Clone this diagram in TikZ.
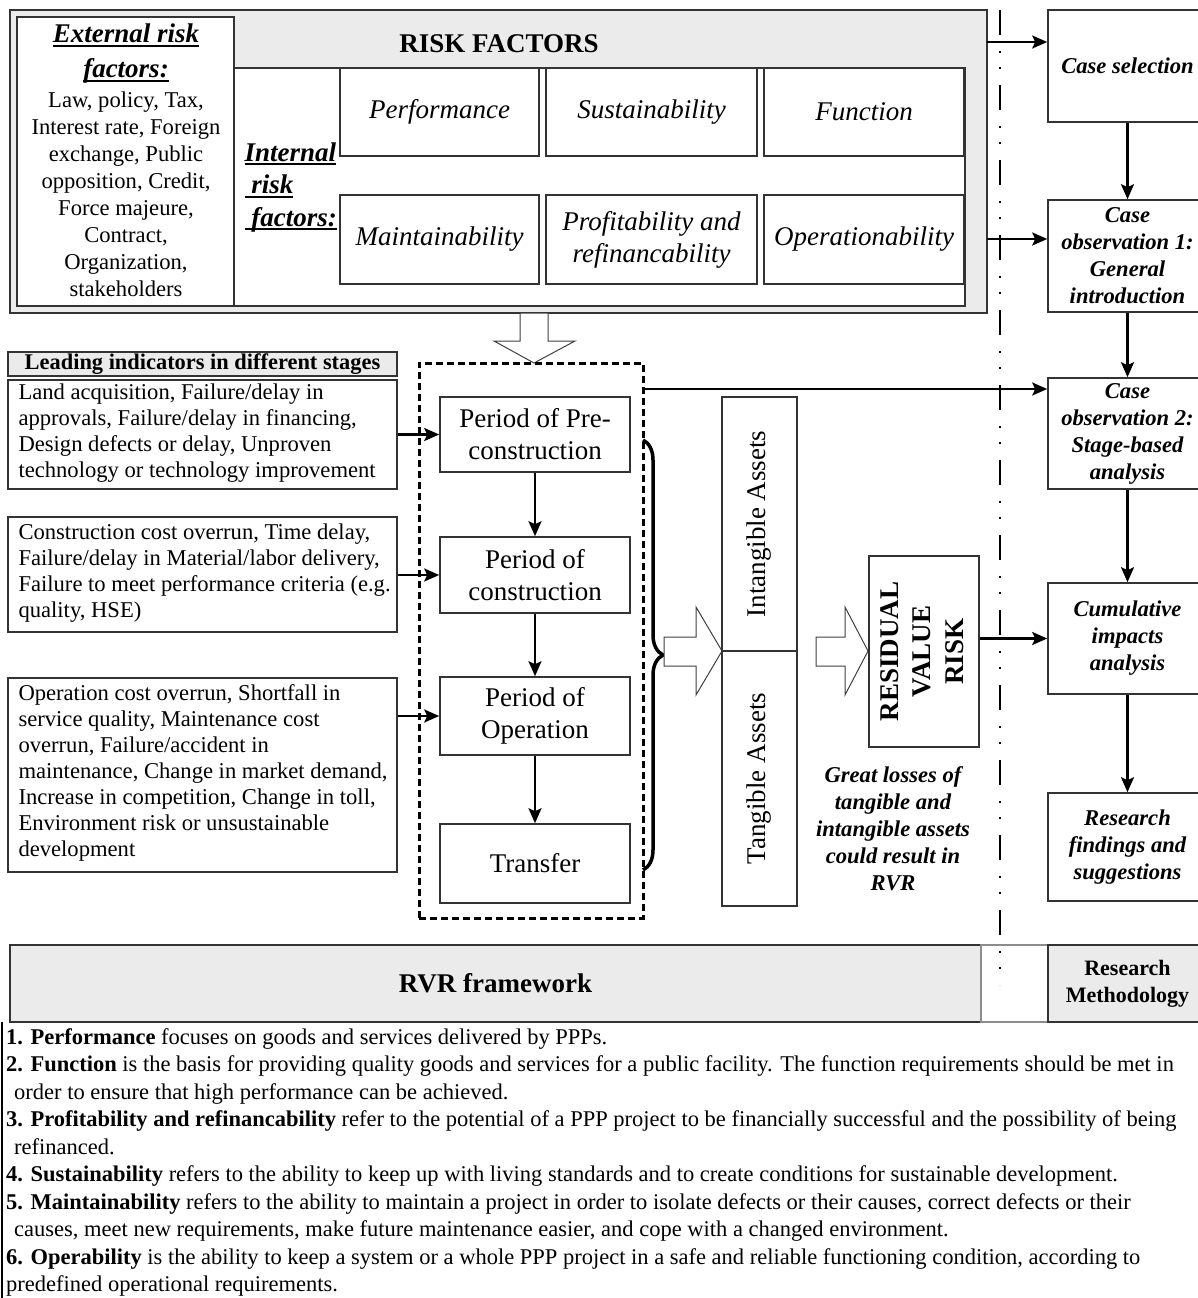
\documentclass[tikz,border=0pt]{standalone}
\usepackage{fontspec}
\setmainfont{Liberation Serif}
\usetikzlibrary{decorations.pathreplacing,arrows.meta}
\newcommand{\undl}[1]{\setbox0=\hbox{#1}\rlap{\rule[-4pt]{\wd0}{2.2pt}}\box0}
\tikzset{
 box/.style={draw=black!80, line width=1.6pt, fill=white, inner sep=0pt, align=center},
 greybox/.style={box, fill=black!8},
 arr/.style={-{Stealth[length=15pt, width=13pt, inset=3pt]}, line width=2.4pt},
 hollow/.style={draw=black!75, line width=1pt, fill=white},
 bigrm/.style={font=\fontsize{27}{32}\selectfont},
 bigit/.style={font=\fontsize{27}{32}\selectfont\itshape},
 bigbf/.style={font=\fontsize{27}{32.5}\selectfont\bfseries},
 bigbi/.style={font=\fontsize{27}{32.5}\selectfont\bfseries\itshape},
 smallrm/.style={font=\fontsize{22.6}{26}\selectfont},
 smallbi/.style={font=\fontsize{22.6}{27}\selectfont\bfseries\itshape},
}
\begin{document}
\begin{tikzpicture}[x=1pt, y=-1pt]
\useasboundingbox (0,0) rectangle (1198,1298);

% risk factors
\node[greybox, line width=2.4pt, minimum width=977pt, minimum height=303pt] (riskbox) at (498.5,161.5) {};
\node[box, minimum width=731pt, minimum height=238pt] (intbox) at (599.5,187) {};
\node[box, minimum width=217pt, minimum height=289pt] (extbox) at (125.5,161.5) {};
\node[font=\fontsize{27}{35}\selectfont\bfseries\itshape, align=center] (exthead) at (126,54) {\undl{External risk}\\\undl{factors:}};
\node[font=\fontsize{22.6}{27}\selectfont, align=center] (extlist) at (126,194.5) {Law, policy, Tax,\\Interest rate, Foreign\\exchange, Public\\opposition, Credit,\\Force majeure,\\Contract,\\Organization,\\stakeholders};
\node[bigbf] (rftitle) at (499,44) {RISK FACTORS};
\node[bigbi, align=left, anchor=west] (intlabel) at (241,187.5) {\undl{Internal}\\\undl{\ risk}\\\undl{\ factors:}};
\node[box, bigit, minimum width=199pt, minimum height=88pt] (perf) at (439.5,112) {Performance};
\node[box, bigit, minimum width=211pt, minimum height=88pt] (sust) at (651.5,112) {Sustainability};
\node[box, bigit, minimum width=200pt, minimum height=88pt] (func) at (864,112) {Function};
\node[box, bigit, minimum width=199pt, minimum height=89pt] (maint) at (439.5,239.5) {Maintainability};
\node[box, bigit, minimum width=211pt, minimum height=89pt] (profit) at (651.5,239.5) {Profitability and\\refinancability};
\node[box, bigit, minimum width=200pt, minimum height=89pt] (operat) at (864,239.5) {Operationability};

% research methodology
\node[box, smallbi, minimum width=159pt, minimum height=112pt] (casesel) at (1127.5,66) {Case selection};
\node[box, smallbi, minimum width=159pt, minimum height=112pt] (obs1) at (1127.5,256) {Case\\observation 1:\\General\\introduction};
\node[box, smallbi, minimum width=159pt, minimum height=111pt] (obs2) at (1127.5,433.5) {Case\\observation 2:\\Stage-based\\analysis};
\node[box, smallbi, minimum width=159pt, minimum height=111pt] (cumul) at (1127.5,638.5) {Cumulative\\impacts\\analysis};
\node[box, smallbi, minimum width=159pt, minimum height=108pt] (findings) at (1127.5,847) {Research\\findings and\\suggestions};

% stages
\draw[hollow] (520,313) -- (548,313) -- (548,341) -- (575,341) -- (534,363) -- (494,341) -- (520,341) -- cycle;
\node[draw, line width=3pt, dash pattern=on 7pt off 4pt, minimum width=224pt, minimum height=555pt] (stagebox) at (531,640.5) {};
\node[greybox, font=\fontsize{22.4}{26}\selectfont\bfseries, minimum width=389pt, minimum height=24pt] (leadhead) at (202.5,364) {Leading indicators in different stages};
\node[box, minimum width=389pt, minimum height=109pt] (ind1) at (202.5,434.5) {};
\node[box, minimum width=389pt, minimum height=115pt] (ind2) at (202.5,574.5) {};
\node[box, minimum width=389pt, minimum height=194pt] (ind3) at (202.5,775) {};
\node[smallrm, align=left, anchor=west] (ind1txt) at (15,433) {Land acquisition, Failure/delay in\\approvals, Failure/delay in financing,\\Design defects or delay, Unproven\\technology or technology improvement};
\node[smallrm, align=left, anchor=west] (ind2txt) at (15,573) {Construction cost overrun, Time delay,\\Failure/delay in Material/labor delivery,\\Failure to meet performance criteria (e.g.\\quality, HSE)};
\node[smallrm, align=left, anchor=west] (ind3txt) at (15,773) {Operation cost overrun, Shortfall in\\service quality, Maintenance cost\\overrun, Failure/accident in\\maintenance, Change in market demand,\\Increase in competition, Change in toll,\\Environment risk or unsustainable\\development};
\node[box, bigrm, minimum width=190pt, minimum height=75pt] (pre) at (535,434.5) {Period of Pre-\\construction};
\node[box, bigrm, minimum width=190pt, minimum height=76pt] (constr) at (535,575) {Period of\\construction};
\node[box, bigrm, minimum width=190pt, minimum height=78pt] (oper) at (535,716) {Period of\\Operation};
\node[box, bigrm, minimum width=190pt, minimum height=79pt] (transfer) at (535,863.5) {Transfer};
\draw[decorate, decoration={brace, amplitude=20pt}, line width=3.5pt] (643,440) -- (643,870);

% assets and RVR
\draw[hollow] (664,637) -- (696,637) -- (696,607) -- (722,651) -- (696,695) -- (696,666) -- (664,666) -- cycle;
\node[box, bigrm, minimum width=75pt, minimum height=254pt] (intang) at (759.5,524) {\rotatebox{90}{Intangible Assets}};
\node[box, bigrm, minimum width=75pt, minimum height=255pt] (tang) at (759.5,778.5) {\rotatebox{90}{Tangible Assets}};
\draw[hollow] (816,637) -- (845,637) -- (845,607) -- (868,651) -- (845,695) -- (845,666) -- (816,666) -- cycle;
\node[box, bigbf, minimum width=110pt, minimum height=191pt] (rvr) at (924,651.5) {\rotatebox{90}{\begin{tabular}{@{}c@{}}RESIDUAL\\VALUE\\RISK\end{tabular}}};
\node[smallbi, align=center] (losses) at (893,829) {Great losses of\\tangible and\\intangible assets\\could result in\\RVR};

% bottom band
\node[greybox, bigbf, minimum width=971pt, minimum height=77pt] (rvrfw) at (495.5,983.5) {RVR framework};
\node[box, draw=black!45, minimum width=67pt, minimum height=77pt] (gap) at (1014.5,983.5) {};
\node[greybox, font=\fontsize{22}{27}\selectfont\bfseries, minimum width=159pt, minimum height=77pt] (resmeth) at (1127.5,983.5) {Research\\Methodology};
\draw[line width=2pt, dash pattern=on 25pt off 16pt on 2pt off 14pt on 2pt off 16pt] (1000,10) -- (1000,985);

% connectors
\coordinate (rfout1) at (987,42);
\coordinate (rfout2) at (987,239);
\coordinate (stageout) at (643,389);
\draw[arr] (rfout1) -- (rfout1 -| casesel.west);
\draw[arr] (rfout2) -- (rfout2 -| obs1.west);
\draw[arr] (stageout) -- (stageout -| obs2.west);
\draw[arr] (casesel) -- (obs1);
\draw[arr] (obs1) -- (obs2);
\draw[arr] (obs2) -- (cumul);
\draw[arr] (cumul) -- (findings);
\draw[arr] (rvr.east |- cumul.west) -- (cumul.west);
\draw[arr] (ind1.east |- pre.west) -- (pre.west);
\draw[arr] (ind2.east |- constr.west) -- (constr.west);
\draw[arr] (ind3.east |- oper.west) -- (oper.west);
\draw[arr] (pre) -- (constr);
\draw[arr] (constr) -- (oper);
\draw[arr] (oper) -- (transfer);

% definitions
\draw[line width=1.6pt] (2,1022) -- (2,1298);
\node[font=\fontsize{22.5}{27.5}\selectfont, align=left, anchor=north west, inner sep=0pt] (notes) at (6,1028) {\textbf{1. Performance} focuses on goods and services delivered by PPPs.\\
\textbf{2. Function} is the basis for providing quality goods and services for a public facility. The function requirements should be met in\\
\hspace{8pt}order to ensure that high performance can be achieved.\\
\textbf{3. Profitability and refinancability} refer to the potential of a PPP project to be financially successful and the possibility of being\\
\hspace{8pt}refinanced.\\
\textbf{4. Sustainability} refers to the ability to keep up with living standards and to create conditions for sustainable development.\\
\textbf{5. Maintainability} refers to the ability to maintain a project in order to isolate defects or their causes, correct defects or their\\
\hspace{8pt}causes, meet new requirements, make future maintenance easier, and cope with a changed environment.\\
\textbf{6. Operability} is the ability to keep a system or a whole PPP project in a safe and reliable functioning condition, according to\\
predefined operational requirements.};
\end{tikzpicture}
\end{document}
